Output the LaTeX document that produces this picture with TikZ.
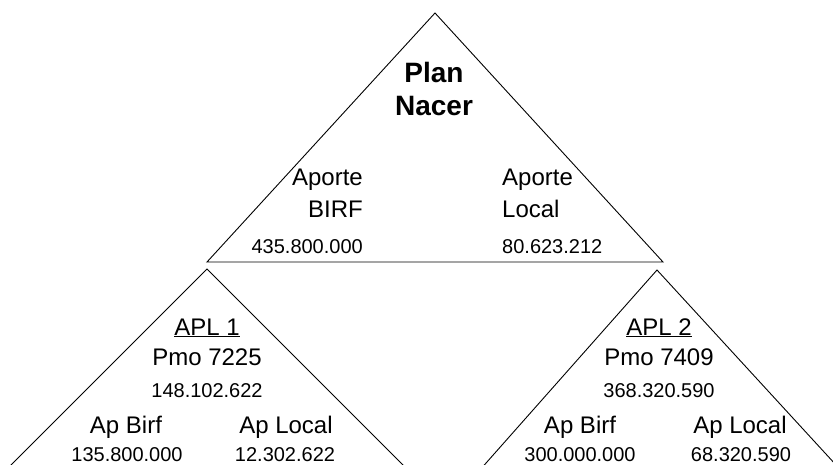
\documentclass[tikz,border=0pt]{standalone}
\usepackage{fontspec}
\setmainfont{Liberation Sans}
\begin{document}
\begin{tikzpicture}[x=1pt,y=-1pt,
  edge/.style={draw=black,line width=0.9pt,line join=miter},
  lbl/.style={font=\fontsize{24}{28}\selectfont,inner sep=0pt,anchor=base},
  num/.style={font=\fontsize{20}{24}\selectfont,inner sep=0pt,anchor=base},
  ttl/.style={font=\fontsize{28}{32}\selectfont\bfseries,inner sep=0pt,anchor=base}]
\useasboundingbox (0,0) rectangle (833,464);
\begin{scope}
\clip (0,0) rectangle (833,464);
% top triangle
\coordinate (tA) at (435,13);
\coordinate (tL) at (207,262);
\coordinate (tR) at (663,262);
\draw[edge] (tL) -- (tA) -- (tR) -- cycle;
% lower left triangle
\coordinate (lA) at (207,269);
\coordinate (lL) at (-30,506);
\coordinate (lR) at (444,506);
\draw[edge] (lL) -- (lA) -- (lR);
% lower right triangle
\coordinate (rA) at (657,270);
\coordinate (rL) at (448,506);
\coordinate (rR) at (870,502);
\draw[edge] (rL) -- (rA) -- (rR);
\end{scope}
% top texts
\node[ttl] (plan) at (434,82) {Plan};
\node[ttl] (nacer) at (434,115) {Nacer};
\node[lbl,anchor=base east] (ap1) at (363,185) {Aporte};
\node[lbl,anchor=base east] (birf) at (363,217) {BIRF};
\node[num,anchor=base east] (n1) at (363,253) {435.800.000};
\node[lbl,anchor=base west] (ap2) at (502,185) {Aporte};
\node[lbl,anchor=base west] (loc) at (502,217) {Local};
\node[num,anchor=base west] (n2) at (502,253) {80.623.212};
% lower left texts
\node[lbl] (apl1) at (207,335) {\underline{APL 1}};
\node[lbl] (pmo1) at (207,365) {Pmo 7225};
\node[num] (t1) at (207,397) {148.102.622};
\node[lbl] (b1) at (126,433) {Ap Birf};
\node[lbl] (l1) at (286,433) {Ap Local};
\node[num] (b1n) at (127,461) {135.800.000};
\node[num] (l1n) at (285,461) {12.302.622};
% lower right texts
\node[lbl] (apl2) at (659,335) {\underline{APL 2}};
\node[lbl] (pmo2) at (659,365) {Pmo 7409};
\node[num] (t2) at (659,397) {368.320.590};
\node[lbl] (b2) at (580,433) {Ap Birf};
\node[lbl] (l2) at (740,433) {Ap Local};
\node[num] (b2n) at (580,461) {300.000.000};
\node[num] (l2n) at (741,461) {68.320.590};
\end{tikzpicture}
\end{document}
